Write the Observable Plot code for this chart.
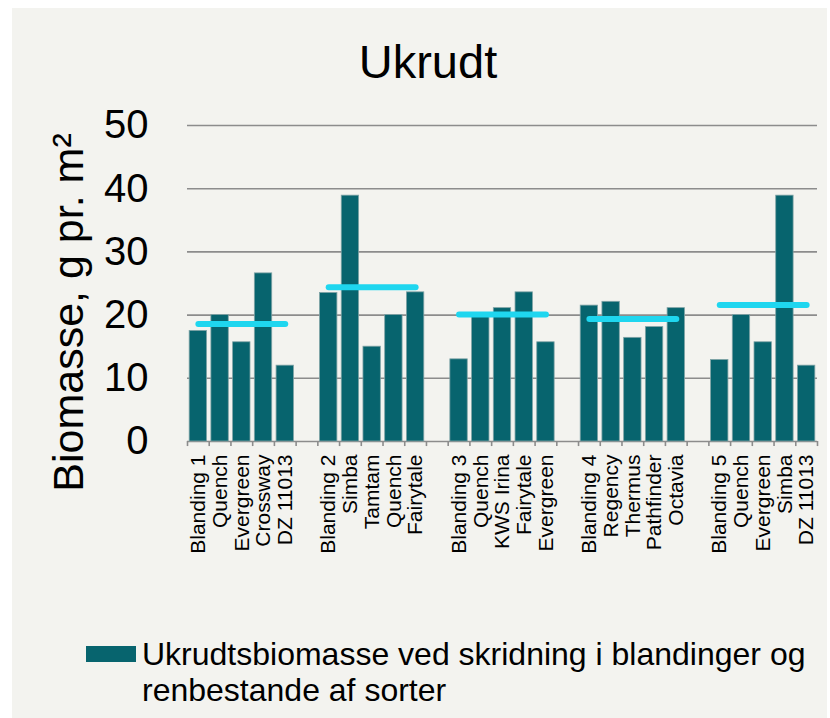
<!DOCTYPE html>
<html><head><meta charset="utf-8">
<script src="https://cdn.jsdelivr.net/npm/d3@7"></script>
<script src="https://cdn.jsdelivr.net/npm/@observablehq/plot@0.6"></script>
<style>
body{margin:0;background:#fff;font-family:"Liberation Sans",Arial,sans-serif;}
#page{position:relative;width:830px;height:718px;background:#fff;overflow:hidden}
#panel{position:absolute;left:12px;top:8px;width:815px;height:710px;background:#f3f3ef}
#chart{position:absolute;left:0;top:0}
#title{position:absolute;top:30px;left:0;width:832px;text-align:center;font-size:47px;line-height:47px;color:#000}
#legend{position:absolute;left:74px;top:628px;width:740px}
#swatch{position:absolute;left:0;top:10px;width:50px;height:16px;background:#07646e}
#legtext{position:absolute;left:56px;top:0;width:680px;font-size:32px;line-height:36px;color:#000}
</style></head>
<body>
<div id="page"><div id="panel">
<div id="chart"></div>
<div id="title"></div>
<div id="legend"><div id="swatch"></div><div id="legtext"></div></div>
</div></div>
<script>
const titleText = "Ukrudt";
const yLabel = "Biomasse, g pr. m²";
const legendText = "Ukrudtsbiomasse ved skridning i blandinger og renbestande af sorter";
const varieties = ["Blanding 1","Quench","Evergreen","Crossway","DZ 11013",
  "Blanding 2","Simba","Tamtam","Quench","Fairytale",
  "Blanding 3","Quench","KWS Irina","Fairytale","Evergreen",
  "Blanding 4","Regency","Thermus","Pathfinder","Octavia",
  "Blanding 5","Quench","Evergreen","Simba","DZ 11013"];
const biomass = [17.5,20.0,15.7,26.6,12.0,
  23.5,38.9,15.0,20.0,23.6,
  13.0,20.0,21.1,23.6,15.7,
  21.5,22.1,16.4,18.1,21.1,
  12.9,20.0,15.7,38.9,12.0];
const groupMeans = [18.6,24.4,20.1,19.4,21.6];
const yTicks = [0,10,20,30,40,50];
const groupSize = 5;

document.getElementById("title").textContent = titleText;
document.getElementById("legtext").textContent = legendText;

const rows = [], domain = [], labelOf = {}, meanPts = [];
for (let g = 0; g < groupMeans.length; g++) {
  for (let j = 0; j < groupSize; j++) {
    const i = g * groupSize + j;
    const key = "b" + i;
    rows.push({key, value: biomass[i], group: g});
    domain.push(key);
    labelOf[key] = varieties[i];
  }
  meanPts.push({key: "b" + (g * groupSize), y: groupMeans[g], group: g});
  meanPts.push({key: "b" + (g * groupSize + groupSize - 1), y: groupMeans[g], group: g});
  if (g < groupMeans.length - 1) { const k = "gap" + g; domain.push(k); labelOf[k] = ""; }
}

const W = 815, H = 570, mL = 175, mR = 10, mT = 117, mB = 137;
const step = (W - mL - mR) / domain.length;
const teal = "#07646e", grid = "#8c8c8c";

const chart = Plot.plot({
  width: W, height: H,
  marginLeft: mL, marginRight: mR, marginTop: mT, marginBottom: mB,
  style: {background: "transparent", fontFamily: "Liberation Sans, Arial, sans-serif", color: "#000", overflow: "visible"},
  x: {type: "band", domain, paddingInner: 0.2, paddingOuter: 0.1, round: false, axis: null},
  y: {domain: [0, 50], axis: null},
  marks: [
    Plot.ruleY(yTicks, {stroke: grid, strokeWidth: 1.6}),
    Plot.ruleX(domain, {x: d => d, y1: 0, y2: -0.8, dx: -step / 2, stroke: grid, strokeWidth: 1.6}),
    Plot.ruleX(domain.slice(-1), {x: d => d, y1: 0, y2: -0.8, dx: step / 2, stroke: grid, strokeWidth: 1.6}),
    Plot.barY(rows, {x: "key", y: "value", fill: teal, stroke: "#7fa3a6", strokeWidth: 0.8}),
    Plot.line(meanPts, {x: "key", y: "y", z: "group", stroke: "#1fd6ef", strokeWidth: 6, strokeLinecap: "round"}),
    Plot.axisX({domain, tickSize: 0, tickRotate: -90, tickPadding: 13, fontSize: 21, tickFormat: k => labelOf[k], label: null}),
    Plot.axisY({ticks: yTicks, tickSize: 0, tickPadding: 39, fontSize: 40, label: null}),
    Plot.text([yLabel], {text: d => d, frameAnchor: "left", textAnchor: "middle", rotate: -90, dx: -118, dy: 29, fontSize: 43, fill: "#000"})
  ]
});
document.getElementById("chart").appendChild(chart);
</script>
</body></html>
